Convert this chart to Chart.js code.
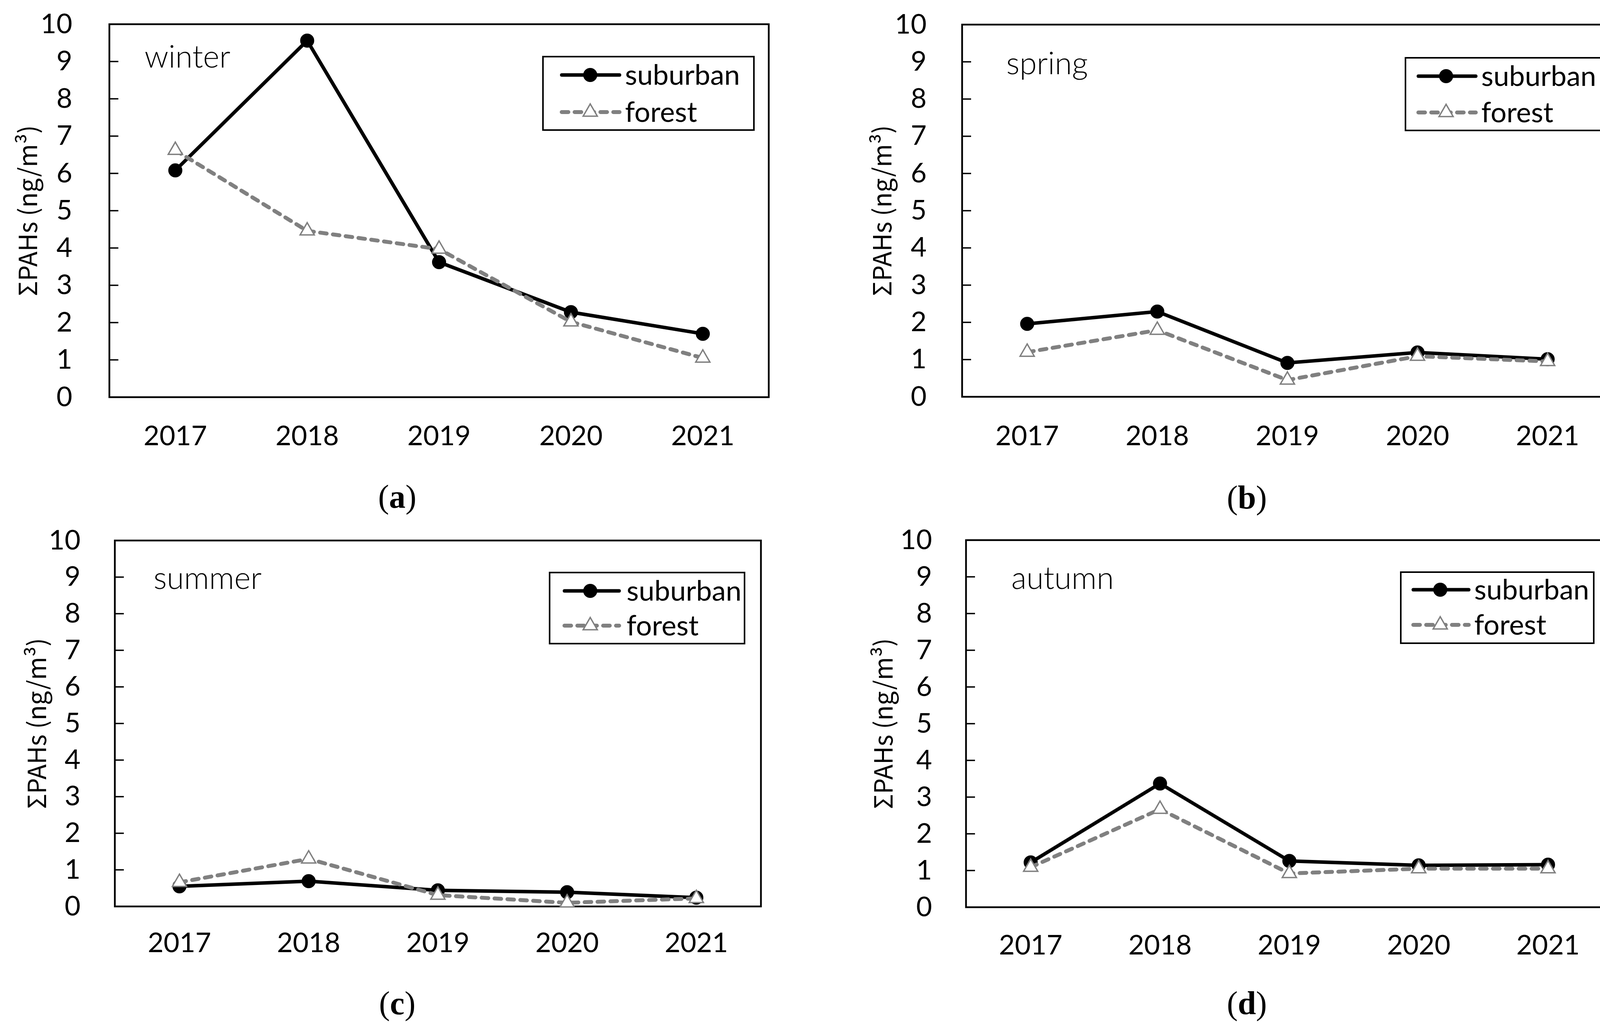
<!DOCTYPE html>
<html>
<head>
<meta charset="utf-8">
<script src="https://cdn.jsdelivr.net/npm/chart.js@4.4.1/dist/chart.umd.min.js"></script>
<style>
  html, body { margin: 0; padding: 0; background: #fff; }
  #page { position: relative; width: 4153px; height: 2622px; overflow: hidden; }
  .panel { position: absolute; }
  .cap { position: absolute; font-family: 'Liberation Serif', serif; font-size: 84px; line-height: 1; transform: translate(-50%, -50%); }
</style>
</head>
<body>
<div id="page">
  <canvas class="panel" id="chart_winter" width="2077" height="1311" style="left:0;top:0"></canvas>
  <canvas class="panel" id="chart_spring" width="2076" height="1311" style="left:2077px;top:0"></canvas>
  <canvas class="panel" id="chart_summer" width="2077" height="1311" style="left:0;top:1311px"></canvas>
  <canvas class="panel" id="chart_autumn" width="2076" height="1311" style="left:2077px;top:1311px"></canvas>
  <div class="cap" style="left:1017px;top:1272px">(<b>a</b>)</div>
  <div class="cap" style="left:3192px;top:1274px">(<b>b</b>)</div>
  <div class="cap" style="left:1017px;top:2569px">(<b>c</b>)</div>
  <div class="cap" style="left:3192px;top:2569px">(<b>d</b>)</div>
</div>
<script>
// values (ng/m3)
const years = ['2017', '2018', '2019', '2020', '2021'];
const seriesNames = ['suburban', 'forest'];
const yTitle = 'ΣPAHs (ng/m³)';

const winter_suburban = [6.08, 9.56, 3.62, 2.28, 1.70];
const winter_forest   = [6.62, 4.46, 3.97, 2.02, 1.05];
const spring_suburban = [1.96, 2.29, 0.91, 1.19, 1.01];
const spring_forest   = [1.20, 1.79, 0.45, 1.09, 0.95];
const summer_suburban = [0.55, 0.69, 0.44, 0.39, 0.24];
const summer_forest   = [0.66, 1.30, 0.31, 0.10, 0.22];
const autumn_suburban = [1.22, 3.37, 1.26, 1.14, 1.16];
const autumn_forest   = [1.09, 2.67, 0.92, 1.05, 1.05];

const GREY = '#808080';
const TICK_FONT = { family: 'Lato', size: 70 };

// frame, inward y ticks, season label and legend box
const framePlugin = {
  id: 'frame',
  beforeDatasetsDraw(chart, args, o) {
    const { ctx, chartArea: a } = chart;
    const y = chart.scales.y;
    ctx.save();
    ctx.strokeStyle = '#000';
    ctx.lineWidth = 4.5;
    ctx.strokeRect(a.left, a.top, a.right - a.left, a.bottom - a.top);
    ctx.lineWidth = 3.5;
    y.ticks.forEach((t, i) => {
      const py = y.getPixelForTick(i);
      ctx.beginPath();
      ctx.moveTo(a.left, py);
      ctx.lineTo(a.left + 23, py);
      ctx.stroke();
    });
    ctx.restore();
  },
  afterDatasetsDraw(chart, args, o) {
    const ctx = chart.ctx;
    ctx.save();
    // season
    ctx.fillStyle = '#000';
    ctx.font = '300 80px Lato';
    ctx.textAlign = 'left';
    ctx.textBaseline = 'alphabetic';
    ctx.fillText(o.season, o.seasonX, o.seasonY);

    // legend
    const [bx1, by1, bx2, by2] = o.box;
    ctx.fillStyle = '#fff';
    ctx.fillRect(bx1, by1, bx2 - bx1, by2 - by1);
    ctx.strokeStyle = '#000';
    ctx.lineWidth = 4;
    ctx.strokeRect(bx1, by1, bx2 - bx1, by2 - by1);

    const [lx1, lx2] = o.lineX;
    const [r1, r2] = o.rowY;
    // suburban
    ctx.lineCap = 'round';
    ctx.strokeStyle = '#000';
    ctx.lineWidth = 9;
    ctx.beginPath(); ctx.moveTo(lx1, r1); ctx.lineTo(lx2, r1); ctx.stroke();
    ctx.fillStyle = '#000';
    ctx.beginPath(); ctx.arc(o.markX, r1, 18, 0, Math.PI * 2); ctx.fill();
    // forest
    ctx.strokeStyle = GREY;
    ctx.lineWidth = 10;
    ctx.setLineDash([17, 16]);
    ctx.beginPath(); ctx.moveTo(lx1, r2); ctx.lineTo(lx2, r2); ctx.stroke();
    ctx.setLineDash([]);
    const r = 21;
    ctx.beginPath();
    ctx.moveTo(o.markX, r2 - r);
    ctx.lineTo(o.markX + r * Math.sin(2 * Math.PI / 3), r2 + r / 2);
    ctx.lineTo(o.markX - r * Math.sin(2 * Math.PI / 3), r2 + r / 2);
    ctx.closePath();
    ctx.fillStyle = '#fff';
    ctx.fill();
    ctx.lineWidth = 3.5;
    ctx.lineJoin = 'miter';
    ctx.stroke();

    ctx.fillStyle = '#000';
    ctx.font = '72px Lato';
    ctx.textBaseline = 'middle';
    ctx.fillText(seriesNames[0], o.textX, r1 + 2);
    ctx.fillText(seriesNames[1], o.textX, r2 + 2);
    ctx.restore();
  }
};

function season_chart(id, suburban, forest, lay) {
  const ctx = document.getElementById(id).getContext('2d');
  return new Chart(ctx, {
    type: 'line',
    data: {
      labels: years,
      datasets: [
        {
          label: seriesNames[0],
          data: suburban,
          order: 1,
          borderColor: '#000',
          borderWidth: 9,
          pointStyle: 'circle',
          pointRadius: 16,
          pointBorderWidth: 4,
          pointBackgroundColor: '#000',
          pointBorderColor: '#000',
          tension: 0,
          clip: false
        },
        {
          label: seriesNames[1],
          data: forest,
          order: 0,
          borderColor: GREY,
          borderWidth: 10,
          borderDash: [17, 16],
          borderCapStyle: 'round',
          pointStyle: 'triangle',
          pointRadius: 21,
          pointBorderWidth: 3.5,
          pointBackgroundColor: '#fff',
          pointBorderColor: GREY,
          tension: 0,
          clip: false
        }
      ]
    },
    options: {
      responsive: false,
      animation: false,
      devicePixelRatio: 1,
      layout: { padding: { left: 0, right: lay.right, top: lay.top, bottom: 0 } },
      scales: {
        x: {
          offset: true,
          grid: { display: false, drawTicks: false },
          border: { display: false },
          ticks: { color: '#000', font: TICK_FONT, padding: lay.xPad, maxRotation: 0 },
          afterFit: (s) => { s.height = lay.xHeight; }
        },
        y: {
          min: 0,
          max: 10,
          // invisible outward tick marks give the gap between labels and frame
          grid: { display: true, drawOnChartArea: false, drawTicks: true, tickLength: lay.yPad, color: 'rgba(0,0,0,0)' },
          border: { display: false },
          ticks: { stepSize: 1, color: '#000', font: TICK_FONT, padding: 0 },
          title: {
            display: true,
            text: yTitle,
            color: '#000',
            font: { family: 'Noto Sans CJK JP', size: 64 },
            padding: { top: lay.titlePad, bottom: 0 }
          },
          afterFit: (s) => { s.width = lay.yWidth; }
        }
      },
      plugins: {
        legend: { display: false },
        tooltip: { enabled: false },
        frame: lay.frame
      }
    },
    plugins: [framePlugin]
  });
}

season_chart('chart_winter', winter_suburban, winter_forest, {
  right: 109, top: 62, xHeight: 294, yWidth: 280, xPad: 58, yPad: 95, titlePad: 32,
  frame: { season: 'winter', seasonX: 370, seasonY: 173,
           box: [1390, 145, 1930, 333], lineX: [1438, 1586], markX: 1511, textX: 1600, rowY: [192, 287] }
});
season_chart('chart_spring', spring_suburban, spring_forest, {
  right: 21, top: 63, xHeight: 295, yWidth: 386, xPad: 59, yPad: 91, titlePad: 142,
  frame: { season: 'spring', seasonX: 2576 - 2077, seasonY: 190,
           box: [3598 - 2077, 148, 4104 - 2077, 334], lineX: [3631 - 2077, 3778 - 2077], markX: 3702 - 2077, textX: 3792 - 2077, rowY: [195, 288] }
});
season_chart('chart_summer', summer_suburban, summer_forest, {
  right: 129, top: 73, xHeight: 301, yWidth: 294, xPad: 52, yPad: 88, titlePad: 55,
  frame: { season: 'summer', seasonX: 393, seasonY: 1508 - 1311,
           box: [1407, 1466 - 1311, 1906, 1648 - 1311], lineX: [1445, 1585], markX: 1511, textX: 1604, rowY: [1513 - 1311, 1602 - 1311] }
});
season_chart('chart_autumn', autumn_suburban, autumn_forest, {
  right: 20, top: 72, xHeight: 299, yWidth: 396, xPad: 56, yPad: 87, titlePad: 145,
  frame: { season: 'autumn', seasonX: 2589 - 2077, seasonY: 1508 - 1311,
           box: [3586 - 2077, 1465 - 1311, 4080 - 2077, 1647 - 1311], lineX: [3618 - 2077, 3760 - 2077], markX: 3687 - 2077, textX: 3774 - 2077, rowY: [1510 - 1311, 1600 - 1311] }
});
</script>
</body>
</html>
